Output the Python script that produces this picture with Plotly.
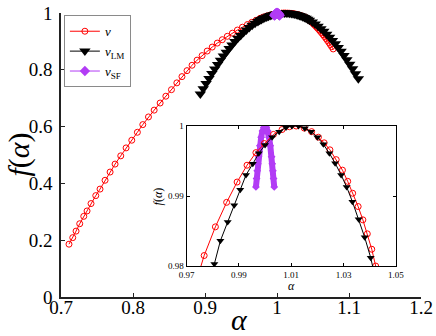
import plotly.graph_objects as go

# ---- data ----
alpha_v = [0.7111, 0.7163, 0.7209, 0.7260, 0.7316, 0.7362, 0.7417, 0.7483, 0.7542, 0.7612,
           0.7682, 0.7751, 0.7830, 0.7904, 0.7983, 0.8061, 0.8136, 0.8215, 0.8294, 0.8377,
           0.8456, 0.8534, 0.8609, 0.8680, 0.8750, 0.8820, 0.8890, 0.8960, 0.9030, 0.9100,
           0.9170, 0.9240, 0.9310, 0.9380, 0.9450, 0.9520, 0.9590, 0.9650, 0.9710, 0.9767,
           0.9810, 0.9853, 0.9893, 0.9931, 0.9965, 0.9997, 1.0032, 1.0065, 1.0093, 1.0119,
           1.0150, 1.0178, 1.0204, 1.0226, 1.0248, 1.0272, 1.0296, 1.0316, 1.0335, 1.0356,
           1.0374, 1.0391, 1.0408, 1.0423, 1.0440, 1.0460, 1.0480, 1.0500, 1.0520, 1.0540,
           1.0560, 1.0580, 1.0600, 1.0620, 1.0640, 1.0660, 1.0680, 1.0700, 1.0720, 1.0740,
           1.0760, 1.0780]
f_v = [0.186, 0.209, 0.232, 0.258, 0.284, 0.303, 0.329, 0.357, 0.380, 0.411,
       0.440, 0.468, 0.497, 0.525, 0.552, 0.580, 0.607, 0.634, 0.658, 0.683,
       0.707, 0.730, 0.754, 0.776, 0.797, 0.816, 0.834, 0.850, 0.866, 0.880,
       0.894, 0.906, 0.918, 0.929, 0.940, 0.950, 0.9595, 0.9672, 0.9745, 0.9815,
       0.9856, 0.9891, 0.9920, 0.9944, 0.9962, 0.9975, 0.9988, 0.9995, 0.9999, 1.0000,
       0.9997, 0.9992, 0.9984, 0.9976, 0.9966, 0.9952, 0.9937, 0.9921, 0.9904, 0.9885,
       0.9866, 0.9846, 0.9824, 0.9800, 0.9765, 0.9722, 0.9677, 0.9630, 0.9580, 0.9528,
       0.9474, 0.9418, 0.9360, 0.9299, 0.9236, 0.9171, 0.9104, 0.9034, 0.8963, 0.8889,
       0.8813, 0.8734]

alpha_lm = [0.8935, 0.8975, 0.9015, 0.9055, 0.9095, 0.9135, 0.9175, 0.9215, 0.9255, 0.9295,
            0.9335, 0.9375, 0.9415, 0.9455, 0.9495, 0.9535, 0.9575, 0.9615, 0.9655, 0.9695,
            0.9735, 0.9760, 0.9783, 0.9806, 0.9829, 0.9857, 0.9882, 0.9905, 0.9927, 0.9953,
            0.9976, 1.0000, 1.0027, 1.0054, 1.0080, 1.0103, 1.0128, 1.0152, 1.0176, 1.0200,
            1.0223, 1.0246, 1.0268, 1.0291, 1.0312, 1.0334, 1.0358, 1.0381, 1.0404, 1.0427,
            1.0450, 1.0490, 1.0530, 1.0570, 1.0610, 1.0650, 1.0690, 1.0730, 1.0770, 1.0810,
            1.0850, 1.0890, 1.0930, 1.0970, 1.1010, 1.1050, 1.1090, 1.1130]
f_lm = [0.7146, 0.7336, 0.7519, 0.7697, 0.7867, 0.8031, 0.8189, 0.8339, 0.8484, 0.8622,
        0.8753, 0.8877, 0.8995, 0.9107, 0.9212, 0.9310, 0.9402, 0.9488, 0.9566, 0.9638,
        0.9704, 0.9742, 0.9774, 0.9803, 0.9836, 0.9863, 0.9887, 0.9909, 0.9930, 0.9946,
        0.9961, 0.9973, 0.9984, 0.9992, 0.9998, 1.0000, 1.0000, 0.9997, 0.9992, 0.9984,
        0.9974, 0.9961, 0.9947, 0.9930, 0.9913, 0.9892, 0.9867, 0.9841, 0.9812, 0.9781,
        0.9748, 0.9684, 0.9613, 0.9534, 0.9449, 0.9356, 0.9256, 0.9149, 0.9035, 0.8913,
        0.8784, 0.8649, 0.8506, 0.8355, 0.8198, 0.8033, 0.7861, 0.7682]

alpha_sf = [0.9965, 0.99675, 0.9970, 0.99725, 0.9975, 0.9980, 0.9985, 0.9990, 0.9995, 1.0000,
            1.0005, 1.0010, 1.0015, 1.0020, 1.0025, 1.00275, 1.0030, 1.00325, 1.0035]
f_sf = [0.9913, 0.9925, 0.9936, 0.9946, 0.9956, 0.9972, 0.9984, 0.9993, 0.9998, 1.0000,
        0.9998, 0.9993, 0.9984, 0.9972, 0.9956, 0.9946, 0.9936, 0.9925, 0.9913]

main_xticks = [0.7, 0.8, 0.9, 1.0, 1.1, 1.2]
main_xlabels = ["0.7", "0.8", "0.9", "1", "1.1", "1.2"]
main_yticks = [0, 0.2, 0.4, 0.6, 0.8, 1.0]
main_ylabels = ["0", "0.2", "0.4", "0.6", "0.8", "1"]
inset_xticks = [0.97, 0.99, 1.01, 1.03, 1.05]
inset_xlabels = ["0.97", "0.99", "1.01", "1.03", "1.05"]
inset_yticks = [0.98, 0.99, 1.0]
inset_ylabels = ["0.98", "0.99", "1"]

RED = "#ff0000"
BLACK = "#000000"
PURPLE = "#b23cf5"
SERIF = "Liberation Serif, Times New Roman, serif"

fig = go.Figure()

# main axes
fig.add_trace(go.Scatter(x=alpha_v, y=f_v, mode="lines+markers", name="<i>v</i>",
                         line=dict(color=RED, width=1),
                         marker=dict(symbol="circle-open", size=6, color=RED, line=dict(width=1)),
                         cliponaxis=False, xaxis="x", yaxis="y"))
fig.add_trace(go.Scatter(x=alpha_lm, y=f_lm, mode="lines+markers", name="<i>v</i><sub>LM</sub>",
                         line=dict(color=BLACK, width=1),
                         marker=dict(symbol="triangle-down", size=10, color=BLACK),
                         cliponaxis=False, xaxis="x", yaxis="y"))
fig.add_trace(go.Scatter(x=alpha_sf, y=f_sf, mode="lines+markers", name="<i>v</i><sub>SF</sub>",
                         line=dict(color=PURPLE, width=1),
                         marker=dict(symbol="diamond", size=8, color=PURPLE),
                         cliponaxis=False, xaxis="x", yaxis="y"))

# inset
fig.add_trace(go.Scatter(x=alpha_sf, y=f_sf, mode="lines+markers", showlegend=False,
                         line=dict(color=PURPLE, width=6),
                         marker=dict(symbol="diamond", size=6, color=PURPLE),
                         xaxis="x2", yaxis="y2"))
fig.add_trace(go.Scatter(x=alpha_v, y=f_v, mode="lines+markers", showlegend=False,
                         line=dict(color=RED, width=1),
                         marker=dict(symbol="circle-open", size=6, color=RED, line=dict(width=1)),
                         xaxis="x2", yaxis="y2"))
fig.add_trace(go.Scatter(x=alpha_lm, y=f_lm, mode="lines+markers", showlegend=False,
                         line=dict(color=BLACK, width=1),
                         marker=dict(symbol="triangle-down", size=7, color=BLACK),
                         xaxis="x2", yaxis="y2"))

axis_common = dict(showgrid=False, zeroline=False, ticks="inside", showline=True,
                   automargin=False)

fig.update_layout(
    width=436, height=336, autosize=False,
    margin=dict(l=61, r=15, t=13, b=39, pad=0),
    paper_bgcolor="white", plot_bgcolor="white",
    font=dict(family=SERIF, color="black"),
    xaxis=dict(domain=[0, 1], range=[0.7, 1.2], tickvals=main_xticks, ticktext=main_xlabels,
               ticklen=4, linecolor="#222", linewidth=1.5, tickcolor="#222",
               tickfont=dict(size=19, family=SERIF), anchor="y", ticklabelstandoff=-8,
               **axis_common),
    yaxis=dict(domain=[0, 1], range=[0, 1], tickvals=main_yticks, ticktext=main_ylabels,
               ticklen=4, linecolor="#222", linewidth=1.5, tickcolor="#222",
               tickfont=dict(size=19, family=SERIF), anchor="x", ticklabelstandoff=3,
               **axis_common),
    xaxis3=dict(overlaying="x", side="top", anchor="y", range=[0.7, 1.2], tickvals=main_xticks,
                showticklabels=False, ticklen=4, linecolor="#8a8a8a", linewidth=2,
                tickcolor="#8a8a8a", **axis_common),
    yaxis3=dict(overlaying="y", side="right", anchor="x", range=[0, 1], tickvals=main_yticks,
                showticklabels=False, ticklen=4, linecolor="#8a8a8a", linewidth=2,
                tickcolor="#8a8a8a", **axis_common),
    xaxis2=dict(domain=[0.349, 0.930], range=[0.97, 1.05], anchor="y2",
                tickvals=inset_xticks, ticktext=inset_xlabels, ticklen=3, mirror="ticks",
                linecolor="black", linewidth=1, tickcolor="black",
                tickfont=dict(size=9, family=SERIF), **axis_common),
    yaxis2=dict(domain=[0.109, 0.602], range=[0.98, 1.0], anchor="x2",
                tickvals=inset_yticks, ticktext=inset_ylabels, ticklen=3, mirror="ticks",
                linecolor="black", linewidth=1, tickcolor="black",
                tickfont=dict(size=9, family=SERIF), **axis_common),
    legend=dict(x=0.008, y=0.992, xanchor="left", yanchor="top",
                bgcolor="white", bordercolor="#8a8a8a", borderwidth=1,
                font=dict(size=13, family=SERIF), tracegroupgap=0, itemwidth=30),
    showlegend=True,
)

fig.add_annotation(text="<i>α</i>", xref="paper", yref="paper", x=0.495, y=-0.08,
                   xanchor="center", yanchor="middle", showarrow=False,
                   font=dict(size=30, family=SERIF))
fig.add_annotation(text="<i>f</i>(<i>α</i>)", xref="paper", yref="paper", x=-0.118, y=0.5,
                   xanchor="center", yanchor="middle", showarrow=False, textangle=-90,
                   font=dict(size=30, family=SERIF))
fig.add_annotation(text="<i>α</i>", xref="paper", yref="paper", x=0.639, y=0.04,
                   xanchor="center", yanchor="middle", showarrow=False,
                   font=dict(size=12, family=SERIF))
fig.add_annotation(text="<i>f</i>(<i>α</i>)", xref="paper", yref="paper", x=0.272, y=0.354,
                   xanchor="center", yanchor="middle", showarrow=False, textangle=-90,
                   font=dict(size=12, family=SERIF))

fig.write_html("out.html", config={"responsive": False, "displayModeBar": False},
               post_script="document.body.style.margin='0';document.body.style.overflow='hidden';")
